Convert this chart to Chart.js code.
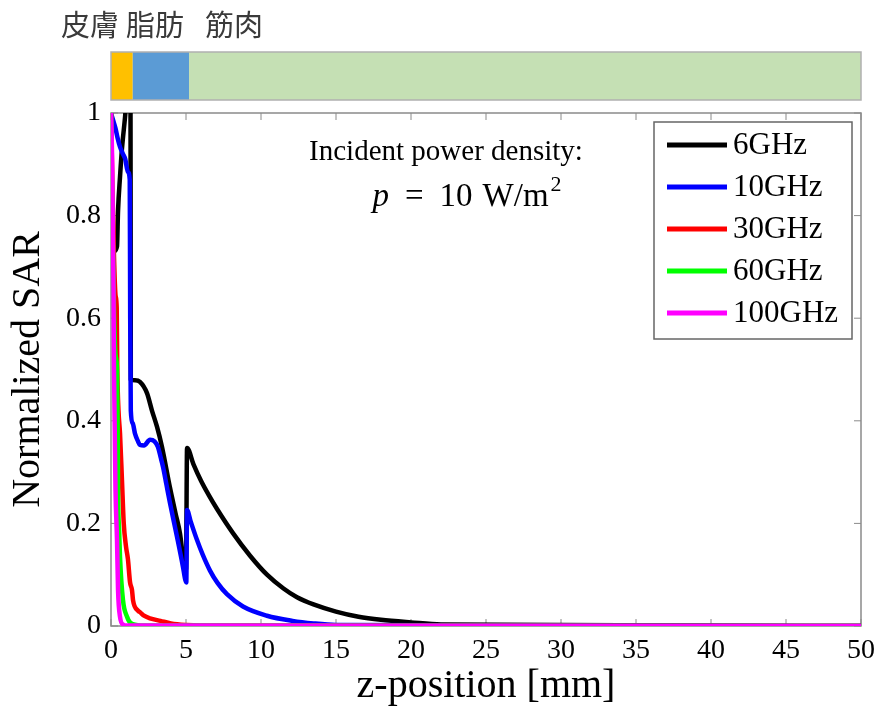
<!DOCTYPE html>
<html>
<head>
<meta charset="utf-8">
<script src="https://cdn.jsdelivr.net/npm/chart.js@4.4.1/dist/chart.umd.min.js"></script>
<style>
html,body{margin:0;padding:0;background:#fff;}
#wrap{width:881px;height:712px;}
</style>
</head>
<body>
<div id="wrap"><canvas id="sarChart" width="881" height="712"></canvas></div>
<script>

// tissue layers (mm)
let layerNames = ["皮膚", "脂肪", "筋肉"]
let layerEdges = [0, 1.45, 5.2, 50]

// series
let freqLabels = ["6GHz", "10GHz", "30GHz", "60GHz", "100GHz"]

let z6 = [0, 0.2, 0.4, 0.47, 0.6, 0.73, 0.93, 1.05, 1.2, 1.3, 1.32, 1.6, 1.93, 2.4, 2.73, 3.07, 3.4, 3.93, 4.3, 4.6, 4.8, 4.95, 5.0, 5.07, 5.5, 6.0, 6.5, 7.07, 8.13, 9.27, 10.4, 11.5, 12.4, 13.5, 15, 16.5, 18, 20, 22, 50]
let sar6 = [0.72, 0.73, 0.74, 0.81, 0.875, 0.93, 0.99, 1.03, 1.04, 1.04, 0.48, 0.479, 0.476, 0.454, 0.42, 0.388, 0.349, 0.27, 0.22, 0.18, 0.135, 0.11, 0.11, 0.347, 0.315, 0.283, 0.256, 0.228, 0.181, 0.137, 0.1, 0.073, 0.056, 0.042, 0.028, 0.018, 0.012, 0.007, 0.003, 0]

let z10 = [0, 0.15, 0.3, 0.45, 0.6, 0.8, 0.95, 1.13, 1.25, 1.28, 1.32, 1.45, 1.6, 1.8, 1.93, 2.2, 2.6, 2.9, 3.13, 3.3, 3.47, 3.7, 3.93, 4.4, 4.8, 4.95, 5.02, 5.07, 5.3, 5.73, 6.1, 6.6, 7.1, 7.73, 8.8, 10.4, 12.1, 13.5, 15, 50]
let sar10 = [1.0, 0.985, 0.97, 0.95, 0.934, 0.92, 0.91, 0.885, 0.87, 0.6, 0.42, 0.395, 0.375, 0.36, 0.353, 0.352, 0.363, 0.36, 0.349, 0.33, 0.31, 0.275, 0.24, 0.174, 0.115, 0.09, 0.085, 0.226, 0.205, 0.168, 0.14, 0.108, 0.084, 0.062, 0.038, 0.02, 0.01, 0.005, 0.002, 0]

let z30 = [0, 0.1, 0.2, 0.3, 0.38, 0.42, 0.5, 0.6, 0.73, 0.85, 1.0, 1.13, 1.27, 1.4, 1.47, 1.8, 1.93, 2.2, 2.6, 3.3, 4.0, 5.0, 6.0, 50]
let sar30 = [1.0, 0.85, 0.72, 0.645, 0.62, 0.5, 0.42, 0.376, 0.285, 0.2, 0.155, 0.13, 0.085, 0.07, 0.05, 0.03, 0.027, 0.02, 0.015, 0.01, 0.005, 0.002, 0.001, 0]

let z60 = [0, 0.1, 0.2, 0.3, 0.4, 0.44, 0.47, 0.55, 0.6, 0.8, 1.07, 1.3, 2.0, 50]
let sar60 = [1.0, 0.8, 0.62, 0.53, 0.5, 0.4, 0.265, 0.18, 0.135, 0.05, 0.018, 0.006, 0.001, 0]

let z100 = [0, 0.08, 0.13, 0.17, 0.2, 0.25, 0.3, 0.4, 0.47, 0.6, 0.8, 1.0, 50]
let sar100 = [1.0, 0.9, 0.75, 0.645, 0.5, 0.38, 0.265, 0.168, 0.07, 0.018, 0.003, 0.001, 0]

// axes
let xTicks = [0, 5, 10, 15, 20, 25, 30, 35, 40, 45, 50]
let yTicks = [0, 0.2, 0.4, 0.6, 0.8, 1]
let yTickLabels = ["0", "0.2", "0.4", "0.6", "0.8", "1"]

let zList = [z6, z10, z30, z60, z100]
let sarList = [sar6, sar10, sar30, sar60, sar100]
let lineColors = ["#000000", "#0000ff", "#ff0000", "#00ff00", "#ff00ff"]
let layerColors = ["#ffc000", "#5b9bd5", "#c5e0b4"]

let serif = "'Liberation Serif', 'Times New Roman', serif"


function line(ctx, x1, y1, x2, y2){
ctx.beginPath()
ctx.moveTo(x1, y1)
ctx.lineTo(x2, y2)
ctx.stroke()
}


let framePlugin = {
id: "frame",
beforeDatasetsDraw(chart){

let ctx = chart.ctx
let a = chart.chartArea
let xs = chart.scales.x
let ys = chart.scales.y

ctx.save()
ctx.strokeStyle = "#8a8a8a"
ctx.lineWidth = 1.5
ctx.strokeRect(a.left, a.top, a.right - a.left, a.bottom - a.top)

ctx.lineWidth = 1
xTicks.forEach(v => {
let px = xs.getPixelForValue(v)
line(ctx, px, a.bottom, px, a.bottom - 7)
line(ctx, px, a.top, px, a.top + 7)
})
yTicks.forEach(v => {
let py = ys.getPixelForValue(v)
line(ctx, a.left, py, a.left + 7, py)
line(ctx, a.right, py, a.right - 7, py)
})
ctx.restore()
}
}


let overlayPlugin = {
id: "overlay",
afterDraw(chart){

let ctx = chart.ctx
let xs = chart.scales.x

ctx.save()

// layer bar above the plot
let barTop = 52
let barH = 48
for(let i = 0; i < layerNames.length; i++){
let x0 = xs.getPixelForValue(layerEdges[i])
let x1 = xs.getPixelForValue(layerEdges[i + 1])
ctx.fillStyle = layerColors[i]
ctx.fillRect(x0, barTop, x1 - x0, barH)
}
ctx.strokeStyle = "#b0b0b0"
ctx.lineWidth = 1.5
let bx0 = xs.getPixelForValue(layerEdges[0])
let bx1 = xs.getPixelForValue(layerEdges[layerEdges.length - 1])
ctx.strokeRect(bx0, barTop, bx1 - bx0, barH)

// tissue names
ctx.fillStyle = "#3a3a3a"
ctx.font = "29px 'Noto Sans CJK JP'"
ctx.textAlign = "center"
ctx.textBaseline = "middle"
let nameX = [90, 155, 234]
layerNames.forEach((n, i) => ctx.fillText(n, nameX[i], 25))

// annotation
ctx.fillStyle = "#000"
ctx.font = "29px " + serif
ctx.fillText("Incident power density:", 446, 152)

// p = 10 W/m^2, math style spacing
ctx.textAlign = "left"
let pieces = [
{t: "p", f: "italic 33px " + serif, gap: 16, dy: 0},
{t: "=", f: "33px " + serif, gap: 16, dy: 0},
{t: "10", f: "33px " + serif, gap: 10, dy: 0},
{t: "W/m", f: "33px " + serif, gap: 2, dy: 0},
{t: "2", f: "22px " + serif, gap: 0, dy: -12}
]
let total = 0
pieces.forEach(p => {
ctx.font = p.f
p.w = ctx.measureText(p.t).width
total += p.w + p.gap
})
let sx = 467 - total / 2
pieces.forEach(p => {
ctx.font = p.f
ctx.fillText(p.t, sx, 197 + p.dy)
sx += p.w + p.gap
})

// legend
let lx = 654, ly = 122, lw = 198, lh = 217
ctx.fillStyle = "#fff"
ctx.fillRect(lx, ly, lw, lh)
ctx.strokeStyle = "#666"
ctx.lineWidth = 1.5
ctx.strokeRect(lx, ly, lw, lh)
ctx.font = "31px " + serif
ctx.textBaseline = "middle"
chart.data.datasets.forEach((ds, i) => {
let ry = 145 + i * 42
ctx.strokeStyle = ds.borderColor
ctx.lineWidth = 5
line(ctx, 667, ry, 727, ry)
ctx.fillStyle = "#000"
ctx.fillText(ds.label, 733, ry + 1)
})

ctx.restore()
}
}


let datasets = freqLabels.map((lab, i) => ({
label: lab,
data: zList[i].map((z, k) => ({x: z, y: sarList[i][k]})),
borderColor: lineColors[i],
borderWidth: 4.5,
borderJoinStyle: "round",
borderCapStyle: "round",
pointRadius: 0,
showLine: true,
cubicInterpolationMode: "monotone",
order: freqLabels.length - i
}))


new Chart(document.getElementById("sarChart"), {

type: "scatter",

data: {datasets: datasets},

options: {
responsive: false,
animation: false,
events: [],
layout: {padding: {top: 113, right: 20, left: 0, bottom: 0}},
plugins: {
legend: {display: false},
tooltip: {enabled: false}
},
scales: {
x: {
type: "linear",
min: 0,
max: 50,
afterFit: s => { s.height = 86; s.paddingRight = 0; s.paddingLeft = 0 },
afterBuildTicks: s => { s.ticks = xTicks.map(v => ({value: v})) },
grid: {display: false, drawTicks: false},
border: {display: false},
ticks: {
color: "#000",
font: {family: serif, size: 28},
padding: 8,
maxRotation: 0,
callback: v => String(v)
},
title: {
display: true,
text: "z-position [mm]",
color: "#000",
font: {family: serif, size: 40},
padding: {top: 0, bottom: 2}
}
},
y: {
type: "linear",
min: 0,
max: 1,
afterFit: s => { s.width = 111 },
afterBuildTicks: s => { s.ticks = yTicks.map(v => ({value: v})) },
grid: {display: false, drawTicks: false},
border: {display: false},
ticks: {
color: "#000",
font: {family: serif, size: 28},
padding: 10,
callback: (v, i) => yTickLabels[i]
},
title: {
display: true,
text: "Normalized SAR",
color: "#000",
font: {family: serif, size: 40},
padding: {top: 4, bottom: 4}
}
}
}
},

plugins: [framePlugin, overlayPlugin]

})

</script>
</body>
</html>
